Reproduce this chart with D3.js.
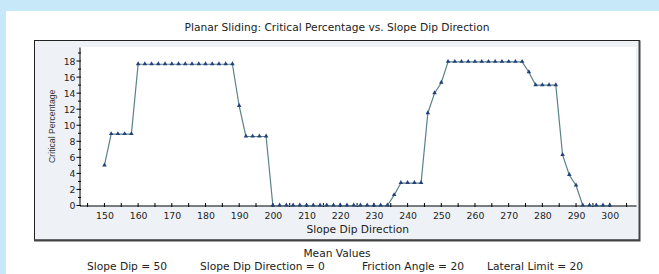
<!DOCTYPE html>
<html>
<head>
<meta charset="utf-8">
<script src="https://cdn.jsdelivr.net/npm/d3@7/dist/d3.min.js"></script>
<style>
    body { margin: 0; background: #c6e8f8; }
    svg { display: block; }
    text { font-family: "DejaVu Sans", Verdana, sans-serif; fill: #222; }
</style>
</head>
<body>
<svg id="chart" width="659" height="274"></svg>
<script>
// slope dip direction (deg) and critical percentage
const dipDirection = [150, 152, 154, 156, 158, 160, 162, 164, 166, 168, 170, 172, 174, 176, 178, 180,
    182, 184, 186, 188, 190, 192, 194, 196, 198, 200, 202, 204, 206, 208, 210, 212, 214, 216, 218, 220,
    222, 224, 226, 228, 230, 232, 234, 236, 238, 240, 242, 244, 246, 248, 250, 252, 254, 256, 258, 260,
    262, 264, 266, 268, 270, 272, 274, 276, 278, 280, 282, 284, 286, 288, 290, 292, 294, 296, 298, 300];
const criticalPct = [5.0, 8.9, 8.9, 8.9, 8.9, 17.6, 17.6, 17.6, 17.6, 17.6, 17.6, 17.6, 17.6, 17.6, 17.6, 17.6,
    17.6, 17.6, 17.6, 17.6, 12.4, 8.6, 8.6, 8.6, 8.6, 0, 0, 0, 0, 0, 0, 0, 0, 0, 0, 0,
    0, 0, 0, 0, 0, 0, 0, 1.3, 2.8, 2.8, 2.8, 2.8, 11.5, 14.0, 15.3, 17.9, 17.9, 17.9, 17.9, 17.9,
    17.9, 17.9, 17.9, 17.9, 17.9, 17.9, 17.9, 16.6, 15.0, 15.0, 15.0, 15.0, 6.3, 3.8, 2.5, 0, 0, 0, 0, 0];

const xMajorTicks = [150, 160, 170, 180, 190, 200, 210, 220, 230, 240, 250, 260, 270, 280, 290, 300];
const xMinorTicks = [145, 155, 165, 175, 185, 195, 205, 215, 225, 235, 245, 255, 265, 275, 285, 295, 305];
const yMajorTicks = [0, 2, 4, 6, 8, 10, 12, 14, 16, 18];
const yMinorTicks = [1, 3, 5, 7, 9, 11, 13, 15, 17, 19];

const meanLabels = ["Slope Dip = 50", "Slope Dip Direction = 0", "Friction Angle = 20", "Lateral Limit = 20"];

const data = dipDirection.map((d, i) => ({ x: d, y: criticalPct[i] }));

const svg = d3.select("#chart");

// white panel
svg.append("rect").attr("x", 6).attr("y", 11).attr("width", 653).attr("height", 263).attr("fill", "#fff");

// chart box
const box = { left: 34, top: 40.5, right: 640, bottom: 241 };
svg.append("rect")
    .attr("x", box.left + 0.5).attr("y", box.top)
    .attr("width", box.right - box.left - 1).attr("height", box.bottom - box.top - 1)
    .attr("fill", "#eef2f6").attr("stroke", "#222").attr("stroke-width", 1);
// heavier right / bottom edge
svg.append("path")
    .attr("d", `M${box.right - 0.5},${box.top} V${box.bottom - 0.5} H${box.left}`)
    .attr("fill", "none").attr("stroke", "#444").attr("stroke-width", 2);

const plot = { left: 79.5, top: 47, right: 636, bottom: 205.5 };
svg.append("rect")
    .attr("x", plot.left).attr("y", plot.top)
    .attr("width", plot.right - plot.left).attr("height", plot.bottom - plot.top)
    .attr("fill", "#fff");

const x = d3.scaleLinear().domain([142.6, 307.8]).range([plot.left, plot.right]);
const y = d3.scaleLinear().domain([0, 19.75]).range([plot.bottom, plot.top]);

const center = (box.left + box.right) / 2;

// title
svg.append("text")
    .attr("x", center).attr("y", 30.5)
    .attr("text-anchor", "middle").style("font-size", "10.67px")
    .text("Planar Sliding: Critical Percentage vs. Slope Dip Direction");

// x axis
const xAxis = svg.append("g").attr("transform", `translate(0,${plot.bottom})`);
xAxis.call(d3.axisBottom(x).tickValues(xMajorTicks).tickSizeInner(0).tickSizeOuter(0).tickPadding(7))
    .call(g => g.select(".domain").attr("stroke", "#000"))
    .call(g => g.selectAll("text").style("font-size", "9.33px").attr("fill", "#222"));
xAxis.selectAll(".xt")
    .data(xMajorTicks.concat(xMinorTicks))
    .enter().append("line")
    .attr("x1", d => x(d)).attr("x2", d => x(d))
    .attr("y1", -2.5).attr("y2", 1.5)
    .attr("stroke", "#000");

// y axis
const yAxis = svg.append("g").attr("transform", `translate(${plot.left},0)`);
yAxis.call(d3.axisLeft(y).tickValues(yMajorTicks).tickSizeInner(0).tickSizeOuter(0).tickPadding(4))
    .call(g => g.select(".domain").attr("stroke", "#000"))
    .call(g => g.selectAll("text").style("font-size", "9.33px").attr("fill", "#222"));
yAxis.selectAll(".yt")
    .data(yMajorTicks)
    .enter().append("line")
    .attr("x1", -3).attr("x2", 1.5)
    .attr("y1", d => y(d)).attr("y2", d => y(d))
    .attr("stroke", "#000");
yAxis.selectAll(".ym")
    .data(yMinorTicks)
    .enter().append("line")
    .attr("x1", -1.5).attr("x2", 1.5)
    .attr("y1", d => y(d)).attr("y2", d => y(d))
    .attr("stroke", "#000");

// axis titles
svg.append("text")
    .attr("x", (plot.left + plot.right) / 2).attr("y", 232.5)
    .attr("text-anchor", "middle").style("font-size", "10.67px")
    .text("Slope Dip Direction");
svg.append("text")
    .attr("transform", `translate(55,${(plot.top + plot.bottom) / 2}) rotate(-90)`)
    .attr("text-anchor", "middle")
    .style("font-family", "'Liberation Sans', Arial, sans-serif")
    .style("font-size", "8.7px").style("fill", "#333")
    .text("Critical Percentage");

// line + markers
const line = d3.line().x(d => x(d.x)).y(d => y(d.y));
svg.append("path")
    .datum(data)
    .attr("d", line)
    .attr("fill", "none")
    .attr("stroke", "#5a8288")
    .attr("stroke-width", 1.2);

const tri = d3.symbol().type(d3.symbolTriangle).size(9);
svg.append("g")
    .selectAll("path")
    .data(data)
    .enter()
    .append("path")
    .attr("d", tri)
    .attr("transform", d => `translate(${x(d.x)},${y(d.y) - 0.3})`)
    .attr("fill", "#23407e");

// mean values block
svg.append("text")
    .attr("x", center).attr("y", 257)
    .attr("text-anchor", "middle").style("font-size", "10.67px")
    .text("Mean Values");

const meanX = [87, 200, 362, 487];
svg.selectAll(".mean")
    .data(meanLabels)
    .enter().append("text")
    .attr("class", "mean")
    .attr("x", (d, i) => meanX[i])
    .attr("y", 269.5)
    .style("font-size", "10.67px")
    .text(d => d);
</script>
</body>
</html>
